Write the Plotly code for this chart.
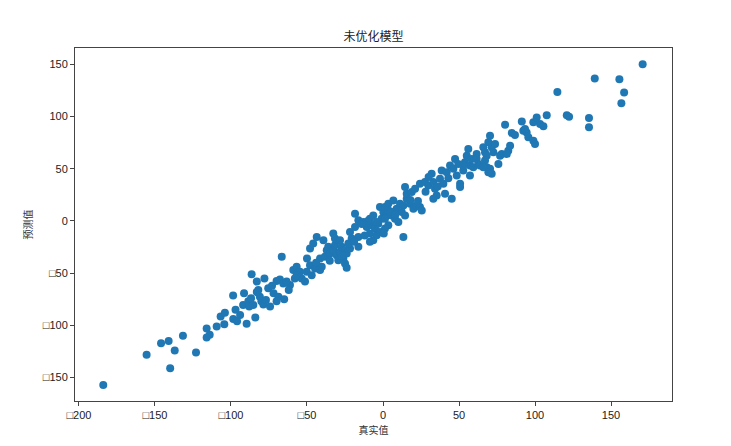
import plotly.graph_objects as go

# True values (x) and predicted values (y)
true_vals = [
    -184, -155.5, -146, -141, -140, -137, -131.6, -123, -116, -116, -114, -109.4, -106.8, -104, -104.4,
    -98.5, -96, -97, -98.6, -91.4, -92, -88.6, -86.8, -85.3, -89.7, -84, -82, -81, -80, -78.7,
    -75.5, -77, -74.3, -86.4, -83, -78, -72, -68.8, -70, -65, -70, -67.8, -65.6, -61.2, -66.6,
    -83, -88,
    -59, -56.8, -54.6, -58, -53.5, -50.2, -51.3, -50, -48, -63.4, -56.8, -48, -46.9, -44.7,
    -41.4, -40.3, -45.9, -43.6, -39.2, -41.4, -38.2, -37, -36, -34.9, -32.7, -31.6, -30.5, -28.3,
    -27.2, -25, -26.1, -23.9, -21.7, -22.8, -20.6, -21.7, -32.7, -31.6, -28.3, -29.4, -25, -23.9,
    -16.2, -16.2, -18.4,
    -18.4, -16.2, -13, -10.7, -8.6, -6.4, -7.4, -5.3, -8.6, -6.4, -8.6, -4.1, -2, -3.1, -0.9,
    0.2, -2, 1.3, 3.5, 2.4, 3.5, 1.3, -4.1, 1.3, 3.5, 6.8, 5.7, 7.9, 9, 11.2, 12.3, 13.4, 14.5,
    10.1, 13.4, 0.5,
    15.6, 17.8, 20, 22.2, 24.3, 25.5, 14.5, 15.6, 18.9, 21.1, 24.3, 27.6, 29.8, 32, 33.1, 34.2,
    35.3, 33.1, 37.5, 39.7, 40.8, 45.2, 38.6, 41.9, 44.1, 46.3, 47.4, 49.5, 48.5,
    50.7, 50.7, 52.8, 53.9, 55.1, 56.1, 57.2, 58.4, 57.2, 59.4, 61.6, 52.8, 61.6, 62.7, 63.8,
    66, 67.1, 68.2, 69.3, 70.4, 71.5, 72.6, 73.7, 67.1, 68.2, 70.4, 71.5, 69.3, 66, 77, 78.1, 75.9,
    82.4, 83.6, 81.4, 80.3, 84.7, 86.8, 91.3, 92.3, 94.5, 93.4, 95.6, 98.9, 100, 98.9, 101.1,
    103.3, 105.5, 107.7, 114.7, 120.9, 122.4, 135.5, 135.5, 139.3, 155.5, 158.6, 156.8, 170.8,
    -44, -35, -27, -19, -12, -10, -14, 5, 8, 18, 23, 28, 30, 36, 43, -62, -73, -94,
]
pred_vals = [
    -157, -128, -117, -115, -141, -124, -110, -126, -103, -111.5, -109, -101, -91.5, -88, -99,
    -94, -96, -85, -71.5, -69.3, -80.5, -77, -74, -80.5, -98.5, -92.5, -66, -72.5, -77, -80,
    -64.5, -75.7, -82, -51, -58, -55, -69.3, -72.5, -77, -75, -57.6, -56, -59.8, -61.4, -34.3,
    -68, -82,
    -47, -43.9, -48.6, -55, -55, -48.6, -58, -36, -26.4, -58, -51.9, -42.3, -51.9, -45.5,
    -47, -43.9, -21.6, -15.3, -18.5, -36, -34.3, -28, -24.8, -31.2, -28, -23.3, -32.8, -29.6,
    -24.8, -28, -36, -31.2, -26.4, -21.6, -16.9, -10.5, -12.1, -16.9, -18.5, -37.6, -40.7, -44.8,
    -24.8, -15.3, -5.7,
    7, 0.6, -1, -5.7, 2.2, 5.3, -4.2, -7.3, -12.1, -18.5, -20, -13.7, -10.5, -2.6, 2.2,
    8.6, 13.3, 13.3, 16.5, 5.3, -4.2, -7.3, -1, 2.2, 10.1, 19.6, 5.3, 2.2, 11.7, 16.5, 8.6, 14.9, 5.3,
    -1, -15.3, -12,
    21.3, 16.5, 11.7, 14.9, 13.3, 10.1, 32.4, 26, 27.6, 30.8, 35.6, 37.2, 33.9, 45.1, 37.2, 30.8,
    24.4, 21.3, 40.3, 35.6, 26, 21.3, 48.2, 46.7, 53, 49.9, 59.4, 54.6, 43.5,
    35.6, 32.4, 48.2, 56.2, 62.5, 68.9, 53, 59.4, 43.5, 51.5, 64.2, 53, 59.4, 54.6, 53,
    70.5, 65.8, 62.5, 75.3, 81.6, 70.5, 65.8, 73.7, 57.8, 51.5, 49.9, 45.1, 46.7, 51.5, 62.5, 64.2, 54.6,
    67.3, 72.1, 64.2, 92.1, 84.2, 82.2, 95.3, 86.4, 84.8, 88, 80.1, 76.8, 73.7, 94.4, 99.1,
    92.8, 90.6, 101.3, 123.5, 101.3, 99.7, 98.5, 89.6, 136.3, 135.6, 123, 112.8, 150,
    -40, -38, -33, -20, -14, 0, -3, 9, 6, 20, 19, 28, 42, 33, 41, -66, -62, -90,
]

x_ticks = [-200, -150, -100, -50, 0, 50, 100, 150]
x_tick_text = ["□200", "□150", "□100", "□50", "0", "50", "100", "150"]
y_ticks = [-150, -100, -50, 0, 50, 100, 150]
y_tick_text = ["□150", "□100", "□50", "0", "50", "100", "150"]

title_text = "未优化模型"
x_label = "真实值"
y_label = "预测值"

fig = go.Figure(
    go.Scatter(
        x=true_vals, y=pred_vals, mode="markers",
        marker=dict(color="#1f77b4", size=8, line=dict(width=0)),
        showlegend=False,
    )
)

axis_common = dict(
    showline=True, linecolor="#444", linewidth=1, mirror=True,
    showgrid=False, zeroline=False, ticks="outside", ticklen=4,
    tickcolor="#444", tickfont=dict(family="Liberation Sans, Arial", size=11, color="#222"),
)

fig.update_layout(
    width=723, height=438,
    margin=dict(l=67, r=59, t=40, b=43),
    paper_bgcolor="white", plot_bgcolor="white",
    title=dict(text=title_text, x=0.5055, xanchor="center", y=0.934, yanchor="middle",
               font=dict(family="Noto Sans CJK SC", size=12, color="#222")),
    xaxis=dict(range=[-202.6, 190.1], tickvals=x_ticks, ticktext=x_tick_text,
               title=dict(text=x_label, font=dict(family="Noto Sans CJK SC", size=10, color="#333"), standoff=6),
               **axis_common),
    yaxis=dict(range=[-172.4, 165.6], tickvals=y_ticks, ticktext=y_tick_text,
               title=dict(text=y_label, font=dict(family="Noto Sans CJK SC", size=10, color="#333"), standoff=8),
               **axis_common),
)

fig.write_html("out.html")
